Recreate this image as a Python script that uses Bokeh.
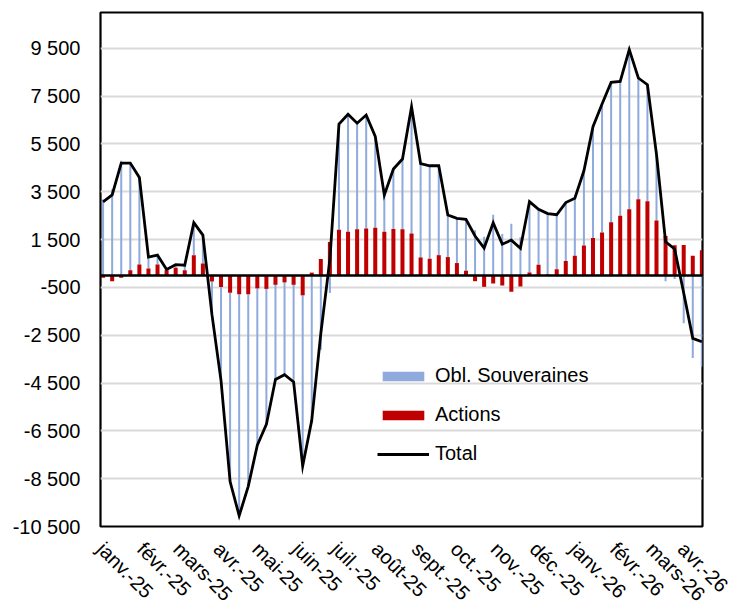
import math
import pandas as pd
from bokeh.plotting import figure
from bokeh.models import ColumnDataSource, Range1d, FixedTicker, Legend, LegendItem
from bokeh.embed import file_html
from bokeh.resources import INLINE

# ---------------- data ----------------
first_week = "2025-01-03"
axis_origin = "2025-01-01"
n_weeks = 67

actions = [-100, -240, -100, 220, 460, 290, 460, 220, 320, 220,
           850, 500, -250, -480, -720, -790, -790, -540, -560, -390,
           -290, -390, -830, 120, 690, 1400, 1915, 1830, 1930, 1970,
           2000, 1830, 1940, 1930, 1760, 755, 700, 850, 770, 520,
           200, -240, -475, -335, -420, -685, -460, 125, 450, 40,
           260, 610, 820, 1250, 1570, 1800, 2230, 2500, 2770, 3190,
           3100, 2300, 1650, 1260, 1270, 820, 1050]

obl = [3180, 3610, 4800, 4480, 3640, 480, 390, 30, 130, 210,
       1360, 1190, -1390, -3920, -7900, -9260, -8030, -6560, -5670, -3960,
       -3860, -4060, -7140, -6180, -3110, -730, 4415, 4910, 4440, 4740,
       3820, 1540, 2510, 2940, 5300, 3925, 3890, 3740, 1760, 1870,
       2150, 1890, 1625, 2535, 1730, 2165, 1600, 2965, 2320, 2550,
       2280, 2440, 2410, 3130, 4650, 5370, 5850, 5620, 6680, 5070,
       4880, 2770, -240, -150, -2000, -3450, -3820]

total = [3080, 3370, 4700, 4700, 4100, 770, 850, 250, 450, 430,
         2210, 1690, -1640, -4400, -8620, -10050, -8820, -7100, -6230, -4350,
         -4150, -4450, -7970, -6060, -2420, 670, 6330, 6740, 6370, 6710,
         5820, 3370, 4450, 4870, 7060, 4680, 4590, 4590, 2530, 2390,
         2350, 1650, 1150, 2200, 1310, 1480, 1140, 3090, 2770, 2590,
         2540, 3050, 3230, 4380, 6220, 7170, 8080, 8120, 9450, 8260,
         7980, 5070, 1410, 1110, -730, -2630, -2770]

month_labels = ["janv.-25", "févr.-25", "mars-25", "avr.-25", "mai-25", "juin-25",
                "juil.-25", "août-25", "sept.-25", "oct.-25", "nov.-25", "déc.-25",
                "janv.-26", "févr.-26", "mars-26", "avr.-26"]

y_ticks = [-10500, -8500, -6500, -4500, -2500, -500, 1500, 3500, 5500, 7500, 9500]

series_names = ["Obl. Souveraines", "Actions", "Total"]
colors = {"obl": "#8FAADC", "actions": "#C00000", "total": "#000000"}

# ---------------- derived positions ----------------
origin = pd.Timestamp(axis_origin)
dates = pd.date_range(first_week, periods=n_weeks, freq="7D")
x = [(d - origin).days for d in dates]
month_starts = pd.date_range(axis_origin, periods=len(month_labels), freq="MS")
month_days = [(d - origin).days for d in month_starts]

# Excel-like stacking: positive values stack upward, negatives downward
red_bottom, red_top, blue_bottom, blue_top = [], [], [], []
for a, o in zip(actions, obl):
    red_bottom.append(0)
    red_top.append(a)
    base = a if (a >= 0) == (o >= 0) else 0
    blue_bottom.append(base)
    blue_top.append(base + o)

src = ColumnDataSource(dict(x=x, rb=red_bottom, rt=red_top, bb=blue_bottom,
                            bt=blue_top, total=total))

FONT = "Liberation Sans"
FS = "20px"

p = figure(frame_width=602, frame_height=514, width=732, height=600,
           output_backend="svg", toolbar_location=None,
           x_range=Range1d(0, 464.5), y_range=Range1d(-10500, 11000),
           min_border_left=100, min_border_right=30, min_border_top=12,
           min_border_bottom=74)
p.background_fill_color = "white"
p.border_fill_color = "white"
p.outline_line_color = "black"
p.outline_line_width = 2.2

# grid
p.xgrid.visible = False
p.ygrid.ticker = FixedTicker(ticks=y_ticks)
p.ygrid.grid_line_color = "#D9D9D9"
p.ygrid.grid_line_width = 2

# y axis
p.yaxis.ticker = FixedTicker(ticks=y_ticks)
p.yaxis.major_label_overrides = {v: f"{v:,}".replace(",", " ") for v in y_ticks}
p.yaxis.axis_line_color = None
p.yaxis.major_tick_line_color = None
p.yaxis.minor_tick_line_color = None
p.yaxis.major_tick_out = 0
p.yaxis.major_label_standoff = 20
p.yaxis.major_label_text_font = FONT
p.yaxis.major_label_text_font_size = FS
p.yaxis.major_label_text_color = "black"

# x axis
p.xaxis.ticker = FixedTicker(ticks=month_days)
p.xaxis.major_label_overrides = {d: lab for d, lab in zip(month_days, month_labels)}
p.xaxis.major_label_orientation = -math.pi / 4
p.xaxis.axis_line_color = None
p.xaxis.major_tick_line_color = None
p.xaxis.minor_tick_line_color = None
p.xaxis.major_tick_out = 0
p.xaxis.major_label_standoff = 19
p.xaxis.major_label_text_font = FONT
p.xaxis.major_label_text_font_size = FS
p.xaxis.major_label_text_color = "black"

# bars
r_blue = p.vbar(x="x", bottom="bb", top="bt", width=1.55, source=src,
                fill_color=colors["obl"], line_color=None)
r_red = p.vbar(x="x", bottom="rb", top="rt", width=3.1, source=src,
               fill_color=colors["actions"], line_color=None)
p.hspan(y=[0], line_color="black", line_width=2.5)
r_tot = p.line(x="x", y="total", source=src, line_color=colors["total"],
               line_width=2.8, line_join="miter")

legend = Legend(items=[LegendItem(label=series_names[0], renderers=[r_blue]),
                       LegendItem(label=series_names[1], renderers=[r_red]),
                       LegendItem(label=series_names[2], renderers=[r_tot])],
                location=(277, 61), orientation="vertical",
                background_fill_alpha=0, border_line_color=None,
                padding=0, margin=0, spacing=16,
                glyph_width=52, glyph_height=12, label_standoff=6,
                label_text_font=FONT, label_text_font_size=FS,
                label_text_color="black")
p.add_layout(legend, "center")

open("out.html", "w").write(file_html(p, INLINE))
